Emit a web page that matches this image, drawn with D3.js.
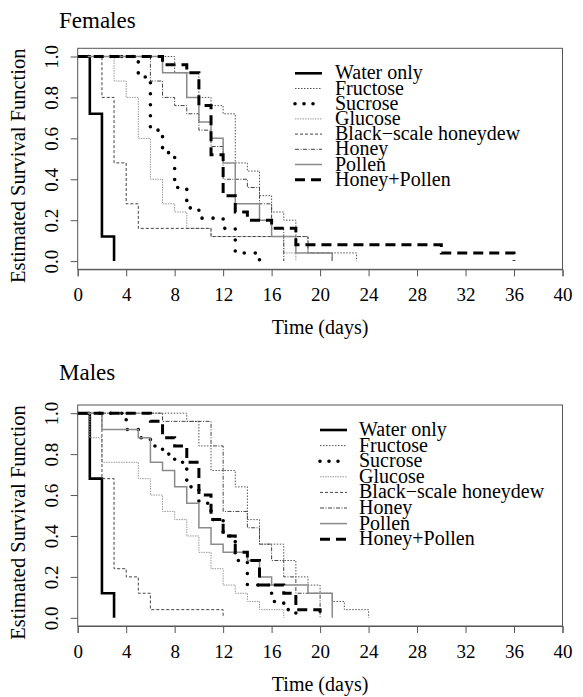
<!DOCTYPE html>
<html><head><meta charset="utf-8">
<script src="https://cdn.jsdelivr.net/npm/d3@7"></script>
<style>
html,body{margin:0;padding:0;background:#fff;}
text{font-family:"Liberation Serif","Times New Roman",serif;fill:#000;}
</style></head>
<body><svg id="c" width="583" height="697"></svg>
<script>
// ---------- data ----------
const seriesNames = ["Water only","Fructose","Sucrose","Glucose","Black\u2212scale honeydew","Honey","Pollen","Honey+Pollen"];
const panelTitles = ["Females","Males"];
const xTicks = [0,4,8,12,16,20,24,28,32,36,40];
const yTicks = [0,0.2,0.4,0.6,0.8,1.0];

const femaleTimes = [
  [0,1,2,3],
  [0,8,10,11,12,13,14,15,16,17,18,19,23],
  [0,5,6,7,8,9,10,12,13,15],
  [0,3,4,5,6,7,8,9,11,17,18],
  [0,2,3,4,5,11,19,21],
  [0,6,7,8,9,10,11,12,14,15,16,17],
  [0,7,9,10,11,12,13,15,16,18,21],
  [0,7,9,10,11,12,13,14,16,18,30,36]
];
const femaleSurv = [
  [1,0.72,0.12,0],
  [1,0.92,0.8,0.76,0.72,0.48,0.44,0.32,0.24,0.2,0.12,0.04,0],
  [1,0.9,0.64,0.53,0.36,0.26,0.21,0.16,0.04,0],
  [1,0.88,0.8,0.6,0.4,0.28,0.24,0.16,0.12,0.04,0],
  [1,0.8,0.48,0.28,0.16,0.12,0.04,0],
  [1,0.88,0.8,0.76,0.72,0.64,0.56,0.4,0.36,0.28,0.16,0],
  [1,0.92,0.8,0.68,0.6,0.48,0.28,0.2,0.12,0.04,0],
  [1,0.96,0.92,0.76,0.52,0.32,0.24,0.2,0.16,0.08,0.04,0]
];
const maleTimes = [
  [0,1,2,3],
  [0,9,10,11,13,14,15,17,18,19,20,21,22,24],
  [0,4,5,6,7,8,9,10,11,12,13,14,16,17,18],
  [0,1,2,5,6,7,8,9,10,11,12,13,14,15,17],
  [0,2,3,4,5,6,12],
  [0,7,11,12,14,15,16,17,18,20],
  [0,2,5,6,7,8,9,10,11,12,14,15,16,19,21],
  [0,6,7,8,9,10,11,12,13,14,15,17,18,20]
];
const maleSurv = [
  [1,0.68,0.12,0],
  [1,0.96,0.84,0.72,0.64,0.48,0.36,0.28,0.2,0.16,0.12,0.08,0.04,0],
  [1,0.92,0.88,0.84,0.8,0.76,0.64,0.56,0.48,0.4,0.28,0.16,0.08,0.04,0],
  [1,0.88,0.76,0.68,0.6,0.52,0.48,0.4,0.32,0.24,0.16,0.12,0.08,0.04,0],
  [1,0.68,0.24,0.2,0.12,0.04,0],
  [1,0.96,0.84,0.52,0.44,0.36,0.28,0.2,0.12,0],
  [1,0.92,0.88,0.76,0.72,0.64,0.56,0.44,0.36,0.32,0.28,0.2,0.16,0.12,0],
  [1,0.96,0.88,0.84,0.76,0.6,0.48,0.4,0.32,0.28,0.16,0.12,0.04,0]
];

// ---------- styles ----------
const styles = [
  {stroke:"#000", width:2.6, dash:null, cap:"butt"},
  {stroke:"#555", width:1, dash:"1.5,1.5", cap:"butt"},
  {stroke:"#000", width:3.6, dash:"0,11", cap:"round"},
  {stroke:"#999", width:1, dash:"1.5,1", cap:"butt"},
  {stroke:"#444", width:1, dash:"3,2", cap:"butt"},
  {stroke:"#444", width:1, dash:"4,1.5,1,1.5", cap:"butt"},
  {stroke:"#8a8a8a", width:1.5, dash:null, cap:"butt"},
  {stroke:"#000", width:3, dash:"10,6", cap:"butt"}
];

const svg = d3.select("#c");
const X0 = 77.7, X1 = 562.5;
const x = d3.scaleLinear().domain([0,40]).range([X0,X1]);

const panels = [
  {title:panelTitles[0], top:48.3, bottom:269.3, times:femaleTimes, surv:femaleSurv,
   titleY:27.5, legX:295, legTextX:335, legY:73.3, legDy:15.2},
  {title:panelTitles[1], top:405, bottom:626, times:maleTimes, surv:maleSurv,
   titleY:380, legX:320, legTextX:359, legY:430, legDy:15.6}
];

panels.forEach(p => {
  const y = d3.scaleLinear().domain([-0.04,1.04]).range([p.bottom,p.top]);
  const g = svg.append("g");

  // curves
  const line = d3.line().x(d=>x(d[0])).y(d=>y(d[1])).curve(d3.curveStepAfter);
  const clipId = "clip"+Math.round(p.top);
  svg.append("clipPath").attr("id",clipId).append("rect")
    .attr("x",X0).attr("y",p.top).attr("width",X1-X0).attr("height",p.bottom-p.top);
  const cg = g.append("g").attr("clip-path","url(#"+clipId+")");
  seriesNames.forEach((n,i)=>{
    const pts = p.times[i].map((t,j)=>[t,p.surv[i][j]]);
    const s = styles[i];
    cg.append("path").attr("d",line(pts)).attr("fill","none")
      .attr("stroke",s.stroke).attr("stroke-width",s.width)
      .attr("stroke-dasharray",s.dash).attr("stroke-linecap",s.cap);
  });

  // box
  g.append("rect").attr("x",X0).attr("y",p.top).attr("width",X1-X0).attr("height",p.bottom-p.top)
    .attr("fill","none").attr("stroke","#555").attr("stroke-width",1);

  // x axis
  const xa = g.append("g").attr("transform",`translate(0,${p.bottom})`)
    .call(d3.axisBottom(x).tickValues(xTicks).tickSize(7).tickPadding(0).tickFormat(d3.format("d")));
  xa.select(".domain").attr("stroke","#555");
  xa.selectAll(".tick line").attr("stroke","#555");
  xa.selectAll(".tick text").attr("y",32).attr("dy",null).attr("font-size",19)
    .attr("font-family","Liberation Serif");

  // y axis
  const ya = g.append("g").attr("transform",`translate(${X0},0)`)
    .call(d3.axisLeft(y).tickValues(yTicks).tickSize(7).tickFormat(d3.format(".1f")));
  ya.select(".domain").remove();
  ya.selectAll(".tick line").attr("stroke","#555");
  ya.selectAll(".tick text").attr("x",null).attr("dy",null)
    .attr("transform","translate(-20,0) rotate(-90)")
    .attr("text-anchor","middle").attr("font-size",19).attr("font-family","Liberation Serif");

  // labels
  g.append("text").attr("x",(X0+X1)/2).attr("y",p.bottom+65).attr("text-anchor","middle")
    .attr("font-size",20).text("Time (days)");
  g.append("text").attr("transform",`translate(25,${(p.top+p.bottom)/2+7}) rotate(-90)`)
    .attr("text-anchor","middle").attr("font-size",20.5).text("Estimated Survival Function");
  g.append("text").attr("x",59).attr("y",p.titleY).attr("font-size",23).text(p.title);

  // legend
  seriesNames.forEach((n,i)=>{
    const yy = p.legY + i*p.legDy;
    const s = styles[i];
    g.append("line").attr("x1",p.legX).attr("x2",p.legX+27).attr("y1",yy).attr("y2",yy)
      .attr("stroke",s.stroke).attr("stroke-width",s.width)
      .attr("stroke-dasharray", i===2 ? "0,9" : s.dash)
      .attr("stroke-linecap",s.cap);
    g.append("text").attr("x",p.legTextX).attr("y",yy+6).attr("font-size",20).text(n);
  });
});
</script></body></html>
